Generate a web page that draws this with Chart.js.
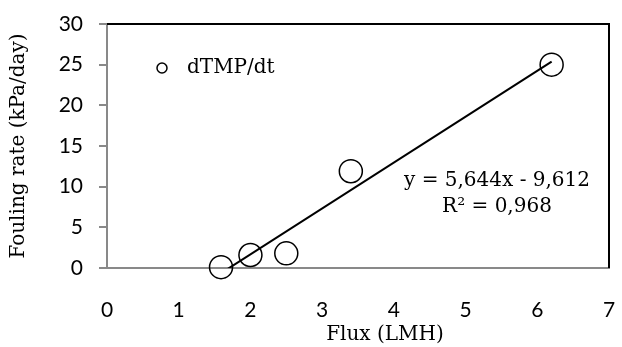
<!DOCTYPE html>
<html>
<head>
<meta charset="utf-8">
<script src="https://cdn.jsdelivr.net/npm/chart.js@4"></script>
<style>
  html, body { margin: 0; padding: 0; background: #fff; }
  canvas { display: block; }
</style>
</head>
<body>
<canvas id="chart" width="622" height="347"></canvas>
<script>
// data
const fluxValues = [1.59, 2.0, 2.5, 3.4, 6.2];
const foulingRates = [0.1, 1.6, 1.8, 11.9, 25.0];
const seriesLabel = 'dTMP/dt';
const xRange = [0, 7];
const yRange = [0, 30];
const trendSlope = 5.644;
const trendIntercept = -9.612;
const trendR2 = 0.968;

const axisGray = '#898989';
const serif = 'DejaVu Serif';
const sans = 'Lato';

function comma(v) {
  return v.toFixed(3).replace('.', ',');
}

const xMin = Math.min(...fluxValues);
const xMax = Math.max(...fluxValues);
const trendPoints = [xMin, xMax].map(x => ({ x: x, y: trendSlope * x + trendIntercept }));

// top/right border, legend, equation and x title
const extras = {
  id: 'extras',
  afterDraw(chart) {
    const ctx = chart.ctx;
    const xs = chart.scales.x;
    const ys = chart.scales.y;
    const left = xs.left, right = xs.right, top = ys.top, bottom = ys.bottom;
    ctx.save();
    ctx.strokeStyle = '#000';
    ctx.lineWidth = 2;
    ctx.beginPath();
    ctx.moveTo(left, top);
    ctx.lineTo(right, top);
    ctx.lineTo(right, bottom);
    ctx.stroke();

    // legend
    ctx.lineWidth = 1.5;
    ctx.beginPath();
    ctx.arc(left + 55, top + 44, 5, 0, Math.PI * 2);
    ctx.stroke();
    ctx.fillStyle = '#000';
    ctx.font = '20px "' + serif + '"';
    ctx.textAlign = 'left';
    ctx.textBaseline = 'middle';
    ctx.fillText(seriesLabel, left + 80, top + 44);

    // equation
    ctx.textAlign = 'center';
    ctx.fillText('y = ' + comma(trendSlope) + 'x - ' + comma(-trendIntercept), 497, 181);
    ctx.fillText('R\u00b2 = ' + comma(trendR2), 497, 207);

    // x title
    ctx.fillText('Flux (LMH)', 385, 335);
    ctx.restore();
  }
};

const ctx = document.getElementById('chart');

new Chart(ctx, {
  type: 'scatter',
  data: {
    datasets: [{
      label: seriesLabel,
      data: fluxValues.map((x, i) => ({ x: x, y: foulingRates[i] })),
      pointStyle: 'circle',
      pointRadius: 11.5,
      pointHoverRadius: 11.5,
      pointBorderWidth: 1.5,
      pointBackgroundColor: 'rgba(0,0,0,0)',
      pointBorderColor: '#000',
      clip: false
    }, {
      label: 'trend',
      type: 'line',
      data: trendPoints,
      borderColor: '#000',
      borderWidth: 2,
      pointRadius: 0,
      fill: false
    }]
  },
  plugins: [extras],
  options: {
    responsive: false,
    animation: false,
    devicePixelRatio: 1,
    layout: { padding: { top: 24, right: 9, left: 0, bottom: 0 } },
    plugins: {
      legend: { display: false },
      tooltip: { enabled: false }
    },
    scales: {
      x: {
        type: 'linear',
        min: xRange[0],
        max: xRange[1],
        afterFit(scale) {
          scale.height = 79;
          scale.paddingLeft = 0;
          scale.paddingRight = 0;
        },
        ticks: { stepSize: 1, padding: 30, color: '#000', font: { family: sans, size: 21 } },
        grid: { display: true, drawOnChartArea: false, drawTicks: false },
        border: { display: true, color: axisGray, width: 2 }
      },
      y: {
        min: yRange[0],
        max: yRange[1],
        afterFit(scale) {
          scale.width = 107;
          scale.paddingTop = 0;
          scale.paddingBottom = 0;
        },
        ticks: { stepSize: 5, padding: 16, color: '#000', font: { family: sans, size: 21 } },
        grid: { display: true, drawOnChartArea: false, drawTicks: true, tickLength: 8, color: axisGray, lineWidth: 2 },
        border: { display: true, color: axisGray, width: 2 },
        title: {
          display: true,
          text: 'Fouling rate (kPa/day)',
          color: '#000',
          font: { family: serif, size: 20 },
          padding: { top: 7, bottom: 0 }
        }
      }
    }
  }
});
</script>
</body>
</html>
